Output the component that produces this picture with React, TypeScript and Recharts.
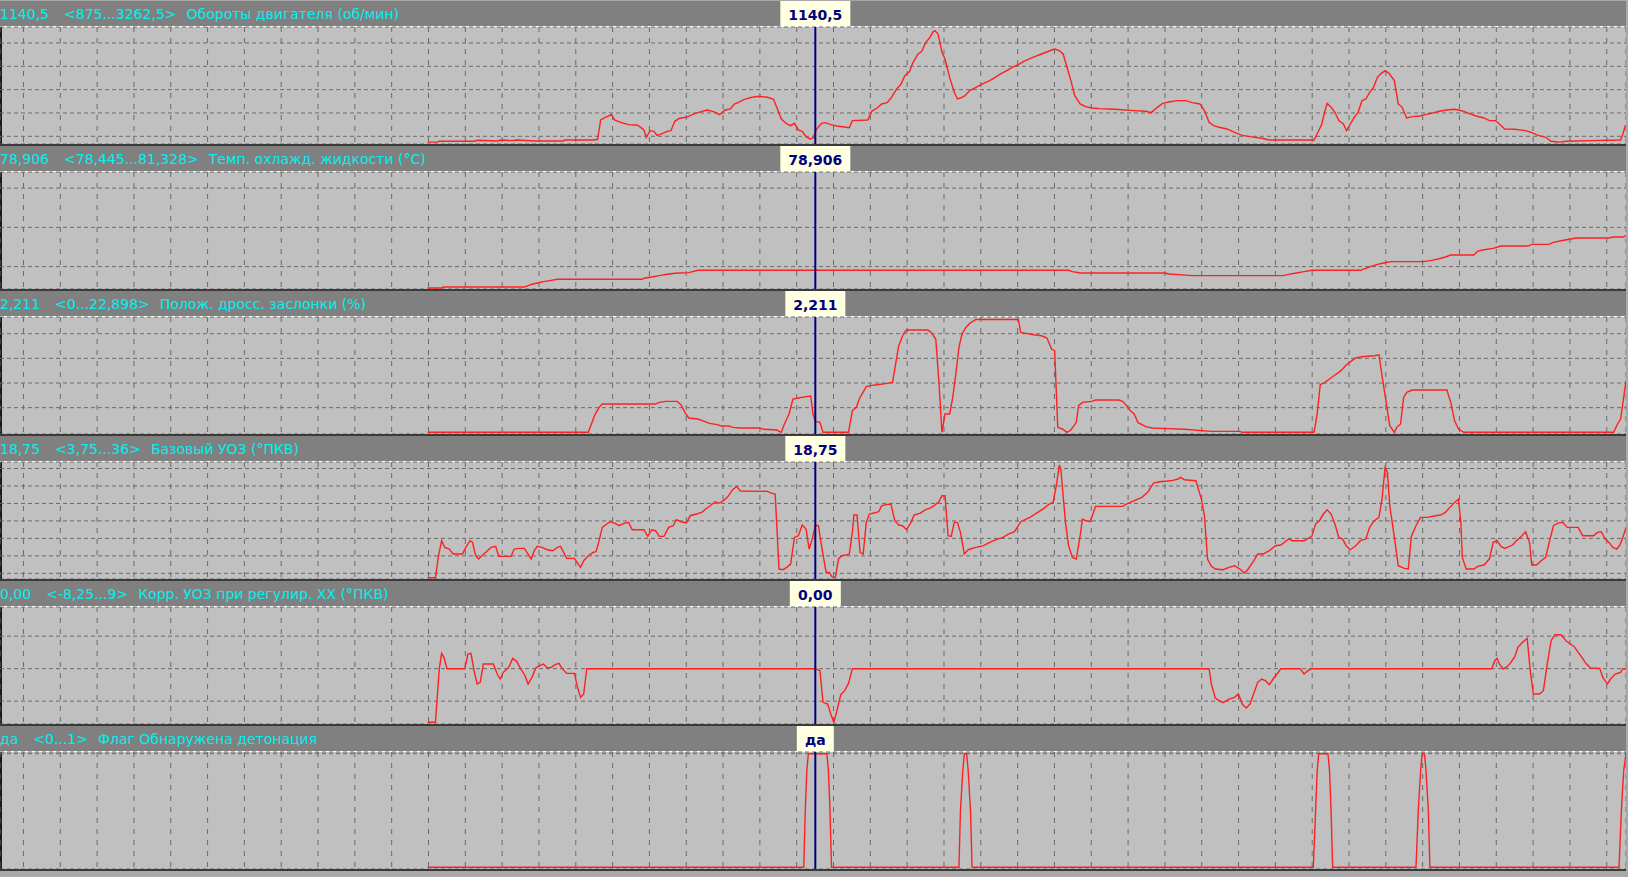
import React from "react";
import { LineChart, Line, XAxis, YAxis, CartesianGrid, ReferenceLine } from "recharts";

// time axis in log ticks; cursor position
const CURSOR_T = 512;
const T_DOMAIN: [number, number] = [-544, 1562];
const GRID_T: number[] = Array.from({ length: 44 }, (_, k) => 11 + 47.69 * (k - 11));

const rpmPts: [number, number][] = [
  [10, 875], [22, 875], [25, 893], [70, 893], [75, 914], [100, 900], [105, 921], [120, 907], [125, 921],
  [150, 900], [185, 900], [188, 921], [225, 921], [230, 936], [234, 1350], [240, 1407], [248, 1464],
  [252, 1350], [260, 1300], [270, 1250], [282, 1236], [290, 1136], [293, 979], [298, 1121], [303, 1107],
  [307, 1021], [313, 1050], [320, 1107], [325, 1121], [330, 1321], [336, 1386], [345, 1407], [355, 1479],
  [365, 1536], [372, 1564], [380, 1529], [388, 1464], [395, 1564], [402, 1586], [407, 1693], [412, 1721],
  [420, 1793], [430, 1836], [440, 1857], [450, 1836], [458, 1793], [462, 1621], [468, 1371], [475, 1264],
  [480, 1229], [485, 1279], [490, 1136], [495, 1107], [500, 993], [505, 943], [509, 960], [513, 1140],
  [520, 1279], [525, 1293], [532, 1250], [540, 1221], [550, 1200], [556, 1186], [560, 1336], [580, 1350],
  [585, 1536], [592, 1607], [598, 1693], [605, 1721], [610, 1821], [617, 2007], [623, 2121], [628, 2300],
  [634, 2386], [638, 2564], [645, 2764], [650, 2821], [655, 3014], [660, 3107], [664, 3229], [667, 3262],
  [671, 3193], [676, 2800], [680, 2657], [686, 2264], [692, 1943], [696, 1800], [700, 1821], [706, 1871],
  [712, 1979], [720, 2050], [730, 2136], [738, 2193], [745, 2264], [752, 2336], [760, 2407], [767, 2479],
  [775, 2536], [782, 2607], [790, 2664], [797, 2714], [805, 2764], [812, 2807], [818, 2850], [822, 2871],
  [828, 2836], [833, 2764], [838, 2479], [843, 2193], [848, 1871], [855, 1693], [862, 1636], [870, 1607],
  [880, 1593], [900, 1579], [925, 1550], [940, 1536], [947, 1507], [955, 1621], [962, 1707], [970, 1736],
  [980, 1764], [992, 1764], [1000, 1721], [1010, 1693], [1016, 1550], [1022, 1300], [1028, 1229],
  [1035, 1193], [1045, 1157], [1055, 1086], [1065, 1021], [1075, 993], [1090, 957], [1100, 921],
  [1158, 921], [1163, 1086], [1168, 1264], [1172, 1536], [1175, 1707], [1180, 1621], [1185, 1514],
  [1190, 1336], [1196, 1264], [1200, 1121], [1205, 1264], [1210, 1407], [1215, 1514], [1220, 1764],
  [1225, 1800], [1230, 1943], [1235, 2050], [1240, 2264], [1245, 2350], [1250, 2407], [1255, 2350],
  [1262, 2193], [1267, 1693], [1272, 1621], [1278, 1393], [1285, 1421], [1295, 1436], [1302, 1464],
  [1310, 1493], [1320, 1536], [1330, 1564], [1340, 1579], [1345, 1564], [1352, 1536], [1360, 1479],
  [1368, 1436], [1378, 1393], [1385, 1336], [1393, 1336], [1398, 1264], [1405, 1157], [1418, 1150],
  [1432, 1121], [1440, 1079], [1448, 1021], [1458, 979], [1465, 893], [1475, 875], [1485, 893],
  [1515, 907], [1555, 921], [1558, 1050], [1561, 1221], [1562, 1221],
];

const coolantPts: [number, number][] = [
  [10, 78.457], [28, 78.457], [30, 78.482], [135, 78.482], [140, 78.516], [145, 78.55], [152, 78.584],
  [160, 78.618], [168, 78.643], [178, 78.677], [288, 78.677], [290, 78.703], [300, 78.737], [310, 78.77],
  [320, 78.804], [330, 78.83], [348, 78.847], [360, 78.906], [840, 78.906], [845, 78.872], [855, 78.838],
  [965, 78.838], [970, 78.813], [1000, 78.77], [1118, 78.77], [1125, 78.804], [1135, 78.838],
  [1145, 78.872], [1155, 78.906], [1218, 78.906], [1225, 78.957], [1232, 79.008], [1240, 79.058],
  [1248, 79.092], [1258, 79.126], [1300, 79.126], [1310, 79.16], [1320, 79.2], [1328, 79.245],
  [1335, 79.296], [1365, 79.296], [1370, 79.397], [1378, 79.431], [1390, 79.465], [1400, 79.524],
  [1435, 79.524], [1440, 79.567], [1462, 79.567], [1468, 79.617], [1478, 79.66], [1490, 79.702],
  [1498, 79.728], [1540, 79.728], [1545, 79.753], [1558, 79.753], [1562, 79.787],
];

const throttlePts: [number, number][] = [
  [10, 0], [218, 0], [222, 1.69], [226, 3.38], [232, 5.07], [236, 5.74], [305, 5.74], [310, 6.08],
  [318, 6.28], [333, 6.28], [338, 5.61], [343, 4.05], [348, 2.91], [360, 2.7], [368, 2.23], [375, 1.82],
  [385, 1.55], [390, 1.28], [400, 1.28], [405, 1.01], [415, 0.88], [440, 0.88], [445, 0.61], [462, 0.47],
  [468, 0], [472, 1.69], [478, 3.72], [483, 6.76], [490, 6.96], [500, 7.23], [506, 7.36], [509, 3.72],
  [512, 2.211], [518, 2.03], [522, 0], [555, 0], [560, 4.39], [565, 5.07], [570, 7.09], [578, 9.26],
  [585, 9.53], [592, 9.66], [605, 9.93], [612, 10.14], [616, 13.85], [620, 17.57], [626, 19.93],
  [630, 20.74], [658, 20.74], [662, 20.27], [668, 18.92], [672, 10.47], [676, 0], [680, 3.72],
  [686, 3.72], [690, 7.09], [694, 11.82], [698, 17.23], [702, 19.93], [707, 21.28], [712, 22.09],
  [720, 22.898], [775, 22.898], [778, 20.27], [785, 20.07], [795, 19.8], [805, 19.59], [812, 19.12],
  [818, 16.89], [822, 16.55], [826, 1.01], [832, 0.68], [838, 0], [843, 0.47], [850, 2.03], [853, 5.41],
  [858, 6.08], [870, 6.28], [875, 6.55], [905, 6.55], [910, 6.28], [915, 5.41], [920, 4.39], [925, 3.72],
  [930, 1.96], [940, 1.15], [948, 0.88], [960, 0.81], [990, 0.61], [1025, 0.2], [1062, 0.2], [1065, 0],
  [1158, 0], [1162, 3.72], [1166, 9.66], [1172, 10.14], [1178, 10.81], [1185, 11.62], [1190, 12.16],
  [1195, 12.84], [1200, 13.72], [1207, 14.53], [1212, 15.07], [1220, 15.34], [1236, 15.54], [1242, 15.74],
  [1246, 11.49], [1252, 5.41], [1256, 1.35], [1262, 0], [1265, 1.01], [1270, 1.69], [1274, 7.09],
  [1278, 8.11], [1285, 8.58], [1330, 8.58], [1335, 6.08], [1340, 2.36], [1345, 0.68], [1352, 0],
  [1546, 0], [1551, 1.69], [1555, 2.7], [1559, 7.09], [1562, 10.47],
];

const ignPts: [number, number][] = [
  [10, 3.75], [20, 3.75], [24, 10.04], [28, 14.34], [32, 12.43], [38, 11.95], [43, 10.52], [55, 10.52],
  [60, 12.72], [65, 14.34], [68, 13.86], [72, 10.04], [76, 9.09], [80, 10.04], [86, 11.19], [92, 12.43],
  [98, 12.72], [102, 9.85], [118, 9.85], [122, 11.95], [128, 12.14], [135, 12.14], [140, 10.52],
  [144, 9.09], [148, 11.48], [152, 12.72], [158, 12.43], [165, 11.76], [172, 11.48], [178, 12.43],
  [182, 12.72], [186, 11.0], [190, 9.28], [200, 9.28], [205, 7.66], [208, 6.71], [212, 8.61], [218, 10.04],
  [224, 11.0], [228, 11.19], [232, 14.34], [236, 18.15], [242, 19.11], [246, 19.77], [252, 19.39],
  [258, 18.63], [265, 19.39], [270, 19.58], [275, 17.48], [290, 17.48], [295, 15.58], [300, 17.48],
  [305, 17.2], [310, 15.58], [316, 15.58], [322, 18.15], [328, 18.63], [332, 20.35], [338, 19.77],
  [345, 19.39], [350, 21.49], [358, 21.97], [365, 22.44], [370, 23.4], [376, 24.35], [382, 25.5],
  [388, 25.11], [393, 25.78], [398, 26.74], [405, 28.93], [410, 29.88], [415, 28.55], [450, 28.45],
  [455, 27.97], [460, 27.69], [465, 6.23], [470, 6.04], [475, 6.71], [480, 7.66], [485, 15.29],
  [490, 15.77], [495, 18.82], [500, 17.67], [504, 11.95], [508, 14.81], [512, 18.75], [516, 18.63],
  [520, 12.91], [526, 5.28], [530, 5.28], [534, 3.85], [538, 3.85], [542, 9.09], [546, 10.04],
  [552, 10.24], [556, 10.52], [560, 16.72], [562, 21.68], [566, 21.68], [570, 11.0], [574, 10.52],
  [578, 19.58], [582, 21.97], [588, 22.25], [594, 22.63], [598, 24.35], [605, 24.73], [610, 24.73],
  [615, 20.06], [620, 18.82], [625, 18.63], [630, 17.48], [636, 19.58], [640, 21.68], [648, 22.25],
  [655, 23.21], [660, 23.59], [666, 24.35], [672, 25.5], [676, 27.21], [680, 27.21], [684, 15.77],
  [688, 15.58], [692, 19.58], [696, 19.58], [700, 16.72], [705, 10.52], [710, 11.76], [720, 12.43],
  [730, 12.91], [740, 14.05], [748, 14.81], [755, 15.29], [762, 16.24], [770, 16.91], [778, 19.77],
  [785, 20.54], [790, 21.01], [800, 22.44], [808, 23.59], [815, 24.83], [820, 25.3], [825, 31.22],
  [828, 35.99], [830, 34.84], [833, 27.21], [836, 19.58], [840, 12.91], [845, 9.57], [850, 9.09],
  [855, 15.77], [858, 20.54], [862, 20.06], [868, 19.77], [875, 24.16], [910, 24.16], [915, 24.83],
  [925, 25.78], [935, 26.74], [943, 28.36], [950, 30.84], [958, 31.22], [968, 31.41], [975, 31.6],
  [982, 31.98], [985, 32.46], [990, 31.79], [1005, 31.5], [1012, 26.26], [1016, 21.49], [1020, 9.09],
  [1025, 6.99], [1030, 6.23], [1040, 6.04], [1048, 6.71], [1055, 7.18], [1062, 6.23], [1068, 5.09],
  [1072, 6.04], [1080, 8.61], [1085, 10.52], [1092, 10.52], [1100, 11.48], [1108, 12.91], [1115, 13.1],
  [1125, 14.81], [1130, 14.34], [1145, 14.34], [1155, 15.58], [1160, 19.11], [1165, 20.06], [1170, 21.97],
  [1175, 23.21], [1180, 21.97], [1185, 19.11], [1190, 15.29], [1195, 14.81], [1200, 12.72], [1205, 11.76],
  [1212, 12.91], [1218, 14.34], [1225, 14.81], [1230, 18.15], [1236, 20.06], [1242, 21.01], [1246, 26.26],
  [1250, 35.32], [1253, 33.89], [1256, 24.35], [1262, 15.29], [1267, 7.18], [1275, 6.42], [1280, 6.23],
  [1284, 15.58], [1290, 18.63], [1296, 21.01], [1305, 21.01], [1315, 21.49], [1322, 21.68], [1328, 22.44],
  [1334, 23.87], [1340, 25.3], [1345, 26.26], [1348, 19.77], [1350, 9.57], [1355, 6.23], [1365, 6.23],
  [1370, 6.99], [1378, 7.37], [1385, 9.09], [1390, 13.86], [1395, 14.34], [1400, 12.72], [1405, 12.14],
  [1415, 13.1], [1420, 14.34], [1425, 15.29], [1432, 16.91], [1437, 13.86], [1440, 7.37], [1446, 7.37],
  [1452, 8.61], [1458, 9.57], [1462, 13.38], [1468, 18.63], [1474, 19.39], [1480, 19.58], [1486, 18.15],
  [1500, 18.15], [1506, 15.77], [1520, 15.77], [1525, 16.72], [1530, 16.91], [1535, 14.81], [1540, 13.86],
  [1545, 12.43], [1550, 11.95], [1554, 13.1], [1558, 15.29], [1562, 18.15],
];

const idleCorrPts: [number, number][] = [
  [10, -8.25], [20, -8.25], [22, -4.92], [25, 0], [28, 2.36], [31, 1.74], [35, 0], [58, 0], [62, 2.26],
  [66, 2.36], [70, -0.31], [74, -2.36], [78, -2.1], [82, 0.72], [95, 0.72], [100, -0.82], [104, -1.59],
  [108, -0.56], [115, 0.21], [120, 1.59], [125, 1.13], [130, 0.1], [136, -1.08], [140, -2.36],
  [145, -1.33], [150, 0.1], [155, 0.46], [160, 0.72], [165, 0.1], [170, 0.21], [175, 0.62], [180, 0.82],
  [184, 0.05], [190, -0.72], [200, -0.72], [204, -2.87], [208, -4.41], [212, -3.9], [216, 0], [512, 0],
  [518, -0.31], [522, -5.18], [528, -5.44], [532, -6.97], [536, -8.25], [540, -6.46], [545, -4.0],
  [550, -3.38], [555, -2.26], [560, 0], [1022, 0], [1025, -2.36], [1030, -4.51], [1035, -4.92],
  [1040, -5.23], [1048, -4.67], [1055, -4.41], [1060, -3.9], [1065, -5.44], [1070, -6.05], [1075, -5.44],
  [1080, -3.79], [1085, -2.1], [1090, -1.59], [1095, -1.85], [1100, -2.46], [1105, -1.59], [1110, -0.82],
  [1115, 0], [1140, 0], [1145, -0.82], [1150, -0.31], [1155, 0], [1388, 0], [1392, 1.23], [1395, 1.59],
  [1398, 0.72], [1403, -0.05], [1408, 0.31], [1412, 0.82], [1418, 1.85], [1422, 3.28], [1428, 4.05],
  [1434, 4.67], [1438, -0.31], [1442, -3.9], [1450, -3.9], [1455, -3.38], [1460, 0.72], [1465, 4.31],
  [1470, 5.23], [1478, 5.23], [1485, 4.21], [1490, 3.79], [1495, 3.38], [1500, 2.51], [1505, 1.74],
  [1510, 0.82], [1516, 0.1], [1528, 0.05], [1532, -1.33], [1538, -2.36], [1542, -1.59], [1548, -0.82],
  [1555, -0.56], [1558, 0], [1562, 0],
];

const knockPts: [number, number][] = [
  [10, 0], [497, 0], [499, 0.5], [501, 0.85], [503, 1], [527, 1], [529, 0.85], [531, 0.5], [533, 0],
  [698, 0], [700, 0.5], [703, 0.85], [705, 1], [708, 1], [710, 0.85], [713, 0.5], [715, 0],
  [1157, 0], [1160, 0.5], [1162, 0.85], [1164, 1], [1176, 1], [1178, 0.85], [1180, 0.5], [1182, 0],
  [1290, 0], [1293, 0.5], [1296, 0.85], [1298, 1], [1301, 1], [1303, 0.85], [1306, 0.5], [1308, 0],
  [1553, 0], [1556, 0.5], [1559, 0.85], [1562, 1],
];

const panelValues = ["1140,5", "78,906", "2,211", "18,75", "0,00", "да"];
const panelRanges = ["<875...3262,5>", "<78,445...81,328>", "<0...22,898>", "<3,75...36>", "<-8,25...9>", "<0...1>"];
const panelNames = [
  "Обороты двигателя (об/мин)",
  "Темп. охлажд. жидкости (°C)",
  "Полож. дросс. заслонки (%)",
  "Базовый УОЗ (°ПКВ)",
  "Корр. УОЗ при регулир. ХХ (°ПКВ)",
  "Флаг Обнаружена детонация",
];
const panelSeries = [rpmPts, coolantPts, throttlePts, ignPts, idleCorrPts, knockPts];
const panelDomains: [number, number][] = [
  [835, 3343], [78.43, 81.41], [-0.34, 23.39], [3.38, 36.86], [-8.51, 9.49], [-0.015, 1.015],
];
const panelTicks: number[][] = [
  [1000, 1500, 2000, 2500, 3000],
  [79, 80, 81],
  [5, 10, 15, 20],
  [5, 10, 15, 20, 25, 30, 35],
  [-5, 0, 5],
  [1],
];

const W = 1626;
const PANEL_H = 145;
const HEADER_H = 25;
const PLOT_TOP = 26;
const PLOT_H = 117;
const FONT = "'DejaVu Sans', Verdana, sans-serif";

let measureCtx: CanvasRenderingContext2D | null = null;
function measure(text: string, font: string): number {
  if (!measureCtx) {
    const c = document.createElement("canvas");
    measureCtx = c.getContext("2d");
  }
  if (!measureCtx) return text.length * 9;
  measureCtx.font = font;
  return measureCtx.measureText(text).width;
}

function makeCursorLabel(text: string) {
  return (props: any) => {
    const vb = props.viewBox || {};
    const x = vb.x ?? 0;
    const y = vb.y ?? 0;
    const w = Math.round(measure(text, `bold 14px ${FONT}`) + 16);
    return (
      <g>
        <rect x={x - w / 2} y={y - PLOT_TOP} width={w} height={HEADER_H} fill="#FFFFE1" />
        <text
          x={x}
          y={y - 7}
          textAnchor="middle"
          fill="#000080"
          fontFamily={FONT}
          fontWeight="bold"
          fontSize={14}
        >
          {text}
        </text>
      </g>
    );
  };
}

function Panel({ i }: { i: number }) {
  const data = panelSeries[i].map(([t, v]) => ({ t, v }));
  return (
    <div style={{ position: "absolute", left: 0, top: 1 + PANEL_H * i, width: W, height: PANEL_H }}>
      <div
        style={{
          position: "absolute",
          left: 0,
          top: 0,
          width: W,
          height: HEADER_H,
          background: "#808080",
          color: "#00F0F0",
          fontFamily: FONT,
          fontSize: 14,
          lineHeight: "23px",
          paddingTop: 2,
          boxSizing: "border-box",
          whiteSpace: "pre",
        }}
      >
        <span>{panelValues[i]}</span>
        <span style={{ marginLeft: 15 }}>{panelRanges[i]}</span>
        <span style={{ marginLeft: 10 }}>{panelNames[i]}</span>
      </div>
      <div style={{ position: "absolute", left: 0, top: HEADER_H, width: W, height: 1, background: "#FFFFFF" }} />
      <div
        style={{
          position: "absolute",
          left: 0,
          top: PLOT_TOP,
          width: W,
          height: PLOT_H,
          background: "#C0C0C0",
          borderLeft: "2px solid #1a1a1a",
          boxSizing: "border-box",
        }}
      />
      <div style={{ position: "absolute", left: 0, top: PLOT_TOP + PLOT_H, width: W, height: 2, background: "#3a3a3a" }} />
      <div style={{ position: "absolute", left: 0, top: 0 }}>
        <LineChart
          width={W}
          height={PLOT_TOP + PLOT_H}
          margin={{ top: PLOT_TOP, right: 0, bottom: 0, left: 0 }}
        >
          <XAxis
            dataKey="t"
            type="number"
            domain={T_DOMAIN}
            ticks={GRID_T}
            interval={0}
            allowDataOverflow
            hide
          />
          <YAxis
            type="number"
            domain={panelDomains[i]}
            ticks={panelTicks[i]}
            interval={0}
            allowDataOverflow
            hide
          />
          <CartesianGrid vertical={false} stroke="#6a6a6a" strokeDasharray="4 3" />
          <CartesianGrid horizontal={false} stroke="#6a6a6a" strokeDasharray="5 6" />
          <Line
            data={data}
            dataKey="v"
            type="linear"
            stroke="#FF2020"
            strokeWidth={1.4}
            dot={false}
            activeDot={false}
            isAnimationActive={false}
          />
          <ReferenceLine
            x={CURSOR_T}
            stroke="#000080"
            strokeWidth={2}
            label={makeCursorLabel(panelValues[i])}
          />
        </LineChart>
      </div>
    </div>
  );
}

export default function App() {
  return (
    <div
      style={{
        position: "absolute",
        left: 0,
        top: 0,
        width: 1628,
        height: 877,
        background: "#A8A8A8",
        overflow: "hidden",
      }}
    >
      {[0, 1, 2, 3, 4, 5].map((i) => (
        <Panel key={i} i={i} />
      ))}
    </div>
  );
}
